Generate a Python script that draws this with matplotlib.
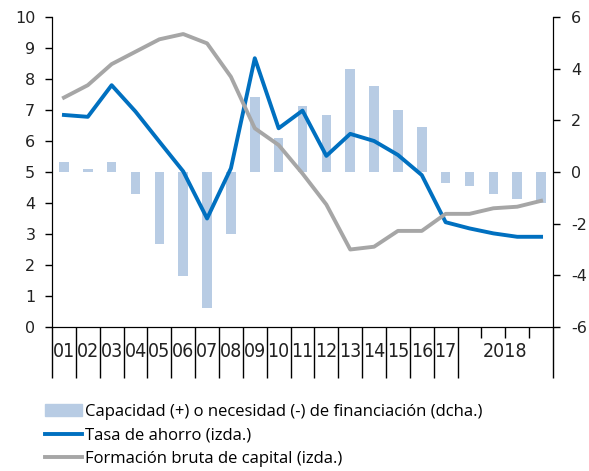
import matplotlib
matplotlib.use("Agg")
import matplotlib.pyplot as plt
from matplotlib.patches import Patch
from matplotlib.lines import Line2D

plt.rcParams['font.family'] = ['DejaVu Sans']

# periodos: años 2001-2017 y trimestres de 2018
etiquetas = ["01", "02", "03", "04", "05", "06", "07", "08", "09", "10",
             "11", "12", "13", "14", "15", "16", "17"]
etiqueta_2018 = "2018"

# capacidad (+) o necesidad (-) de financiación (eje dcho.)
capacidad = [0.4, 0.12, 0.4, -0.86, -2.8, -4.04, -5.28, -2.4, 2.9, 1.33,
             2.55, 2.2, 4.0, 3.34, 2.4, 1.75, -0.44, -0.54, -0.86, -1.06, -1.21]

# tasa de ahorro (eje izdo.)
ahorro = [6.84, 6.78, 7.8, 6.95, 5.98, 5.02, 3.5, 5.12, 8.67, 6.41,
          6.98, 5.52, 6.23, 6.0, 5.55, 4.9, 3.38, 3.18, 3.02, 2.91, 2.91]

# formación bruta de capital (eje izdo.)
fbc = [7.4, 7.8, 8.48, 8.88, 9.28, 9.45, 9.15, 8.07, 6.41, 5.87,
       4.95, 3.95, 2.5, 2.59, 3.1, 3.1, 3.65, 3.65, 3.83, 3.88, 4.07]

eje_dcho = [-6, -4, -2, 0, 2, 4, 6]

azul = "#0070C0"
gris = "#A6A6A6"
barra = "#B8CCE4"

x = list(range(len(capacidad)))
n_anual = len(etiquetas)

fig = plt.figure(figsize=(5.89, 4.71), dpi=100)
ax = fig.add_axes([52/589, 1-327/471, 501/589, 310/471])
ax2 = ax.twinx()

ax2.bar(x, capacidad, width=0.4, color=barra)
ax2.set_ylim(-6, 6)
ax2.set_yticks(eje_dcho)
ax2.set_yticklabels([str(v) for v in eje_dcho])

ax.plot(x, ahorro, color=azul, lw=2.8)
ax.plot(x, fbc, color=gris, lw=2.8)
ax.set_ylim(0, 10)
ax.set_yticks(range(0, 11))
ax.set_xlim(-0.5, len(x) - 0.5)

# lineas delante de las barras
ax.set_zorder(ax2.get_zorder() + 1)
ax.patch.set_visible(False)

for a in (ax, ax2):
    a.spines["top"].set_visible(False)
    a.tick_params(axis="y", length=5, width=1, labelsize=11.5,
                  labelcolor="#222222", pad=7)
ax2.tick_params(axis="y", pad=8)

# etiquetas de categoria sin marca, separadores como ticks menores
ax.set_xticks(x[:n_anual] + [18.5])
ax.set_xticklabels(etiquetas + [etiqueta_2018], fontsize=14,
                   family=['DejaVu Sans'], fontstretch='condensed', color="#222222")
ax.tick_params(axis="x", which="major", length=0, pad=10.5)
ax.set_xticks([i - 0.5 for i in range(n_anual + 1)] + [len(x) - 0.5], minor=True)
ax.tick_params(axis="x", which="minor", length=37, width=1)

# marcas cortas entre trimestres de 2018
ax.vlines([17.5, 18.5, 19.5], 0, -11/310, transform=ax.get_xaxis_transform(),
          clip_on=False, color="black", lw=1)

handles = [Patch(color=barra),
           Line2D([], [], color=azul, lw=2.8),
           Line2D([], [], color=gris, lw=2.8)]
labels = ["Capacidad (+) o necesidad (-) de financiación (dcha.)",
          "Tasa de ahorro (izda.)",
          "Formación bruta de capital (izda.)"]
fig.legend(handles, labels, loc="upper left", bbox_to_anchor=(45/589, 1-404/471),
           frameon=False, handlelength=2.2, handletextpad=0.2,
           labelspacing=0.45, borderpad=0, borderaxespad=0,
           prop={'family': 'Open Sans', 'size': 12})

fig.savefig("out.png", dpi=100)
